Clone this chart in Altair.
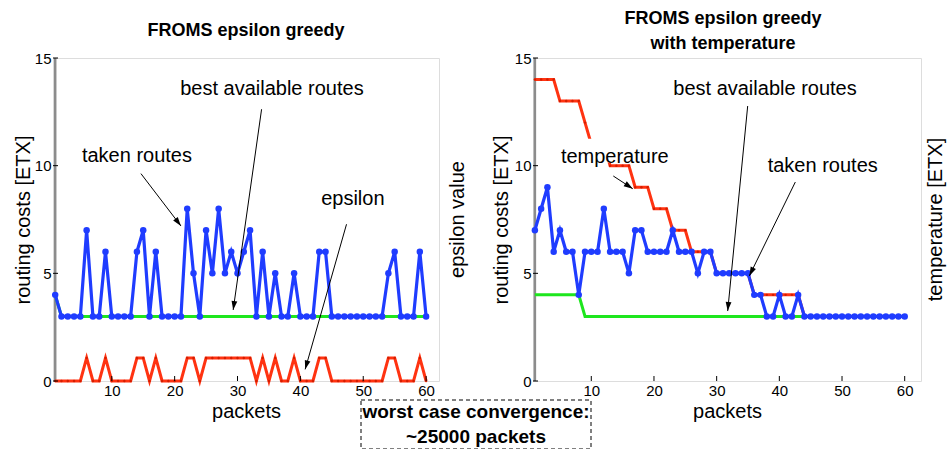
import math
import altair as alt
import pandas as pd

# ---------------- data ----------------
packets = list(range(1, 61))
left_taken = [4, 3, 3, 3, 3, 7, 3, 3, 6, 3,
              3, 3, 3, 6, 7, 3, 6, 3, 3, 3,
              3, 8, 5, 3, 7, 5, 8, 5, 6, 5,
              6, 7, 3, 6, 3, 5, 3, 3, 5, 3,
              3, 3, 6, 6, 3, 3, 3, 3, 3, 3,
              3, 3, 3, 5, 6, 3, 3, 3, 6, 3]
left_best = [4, 3, 3, 3, 3, 3, 3, 3, 3, 3,
             3, 3, 3, 3, 3, 3, 3, 3, 3, 3,
             3, 3, 3, 3, 3, 3, 3, 3, 3, 3,
             3, 3, 3, 3, 3, 3, 3, 3, 3, 3,
             3, 3, 3, 3, 3, 3, 3, 3, 3, 3,
             3, 3, 3, 3, 3, 3, 3, 3, 3, 3]
left_epsilon = [0, 0, 0, 0, 0, 1, 0, 0, 1, 0,
                0, 0, 0, 1, 1, 0, 1, 0, 0, 0,
                0, 1, 1, 0, 1, 1, 1, 1, 1, 1,
                1, 1, 0, 1, 0, 1, 0, 0, 1, 0,
                0, 0, 1, 1, 0, 0, 0, 0, 0, 0,
                0, 0, 0, 1, 1, 0, 0, 0, 1, 0]
right_taken = [7, 8, 9, 6, 7, 6, 6, 4, 6, 6,
               6, 8, 6, 6, 6, 5, 7, 7, 6, 6,
               6, 6, 7, 6, 6, 6, 5, 6, 6, 5,
               5, 5, 5, 5, 5, 4, 4, 3, 3, 4,
               3, 3, 4, 3, 3, 3, 3, 3, 3, 3,
               3, 3, 3, 3, 3, 3, 3, 3, 3, 3]
right_best = [4, 4, 4, 4, 4, 4, 4, 4, 3, 3,
              3, 3, 3, 3, 3, 3, 3, 3, 3, 3,
              3, 3, 3, 3, 3, 3, 3, 3, 3, 3,
              3, 3, 3, 3, 3, 3, 3, 3, 3, 3,
              3, 3, 3, 3, 3, 3, 3, 3, 3, 3,
              3, 3, 3, 3, 3, 3, 3, 3, 3, 3]
right_temperature = [14, 14, 14, 14, 13, 13, 13, 13, 12, 11,
                     11, 11, 10, 10, 10, 10, 9, 9, 9, 8,
                     8, 8, 7, 7, 7, 6, 6, 6, 6, 5,
                     5, 5, 5, 5, 5, 4, 4, 4, 4, 4,
                     4, 4, 4, 3, 3, 3, 3, 3, 3, 3,
                     3, 3, 3, 3, 3, 3, 3, 3, 3, 3]

x_ticks = [10, 20, 30, 40, 50, 60]
y_ticks = [0, 5, 10, 15]

left_title = ["FROMS epsilon greedy"]
right_title = ["FROMS epsilon greedy", "with temperature"]

# annotations in data coordinates (packets, ETX)
left_notes = [("best available routes", 35.47, 13.56),
              ("taken routes", 14.0, 10.45),
              ("epsilon", 48.35, 8.45)]
left_arrows = [(33.83, 12.62, 29.31, 3.30),
               (14.64, 9.63, 21.0, 7.2),
               (47.34, 7.28, 40.76, 0.54)]
right_notes = [("best available routes", 37.71, 13.56),
               ("taken routes", 46.92, 9.99),
               ("temperature", 13.75, 10.4)]
right_arrows = [(34.95, 12.77, 31.76, 3.25),
                (42.55, 9.24, 35.21, 4.88),
                (13.51, 9.52, 16.61, 8.93)]

# ---------------- style ----------------
FONT = "Liberation Sans"
BLUE = "#1f3cff"
GREEN = "#1ee61e"
RED = "#ff3311"
LW, RW, H = 386, 388, 323
LXD = [0.65, 62.05]
RXD = [0.7, 62.6]
YD = [0, 15]
EPSD = [0, 14]
ARROW = "M0,0L-0.32,1L0.32,1Z"


def xscale(dom):
    return alt.Scale(domain=dom, nice=False, zero=False)


ys = alt.Scale(domain=YD, nice=False, zero=False)


def x_axis():
    return alt.Axis(values=x_ticks, orient="bottom", title="packets", grid=False,
                    domain=False, ticks=False, labelFontSize=15, labelPadding=2,
                    labelFont=FONT, labelColor="black", titleFontSize=20,
                    titleFontWeight="normal", titleFont=FONT, titleColor="black",
                    titleY=30, titleBaseline="middle", titleAlign="center")


def y_axis(tx):
    return alt.Axis(values=y_ticks, orient="left", title="routing costs [ETX]", grid=False,
                    domain=False, ticks=False, labelFontSize=15, labelPadding=2,
                    labelFont=FONT, labelColor="black", titleFontSize=20,
                    titleFontWeight="normal", titleFont=FONT, titleColor="black",
                    titleX=tx, titleY=H / 2, titleAngle=270, titleBaseline="middle",
                    titleAlign="center")


def arrow_df(arrows, xd, width):
    sx = width / (xd[1] - xd[0])
    sy = H / (YD[1] - YD[0])
    rows = []
    for x1, y1, x2, y2 in arrows:
        dx = (x2 - x1) * sx
        dy = -(y2 - y1) * sy
        a = math.degrees(math.atan2(dx, -dy)) % 360
        rows.append({"x": x1, "y": y1, "x2": x2, "y2": y2, "angle": a})
    return pd.DataFrame(rows)


def label(text, x, y, size=20, weight="normal", angle=0):
    return alt.Chart(pd.DataFrame({"t": [text]})).mark_text(
        font=FONT, fontSize=size, fontWeight=weight, color="black", angle=angle,
        align="center", baseline="middle").encode(
        x=alt.value(x), y=alt.value(y), text="t:N")


def common_layers(xs, xd, width, notes, arrows):
    layers = []
    # inward tick marks
    layers.append(alt.Chart(pd.DataFrame({"v": x_ticks})).mark_rule(color="black", strokeWidth=1).encode(
        x=alt.X("v:Q", scale=xs, axis=None), y=alt.value(H), y2=alt.value(H - 5)))
    layers.append(alt.Chart(pd.DataFrame({"v": y_ticks})).mark_rule(color="black", strokeWidth=1).encode(
        y=alt.Y("v:Q", scale=ys, axis=None), x=alt.value(0), x2=alt.value(5)))
    adf = arrow_df(arrows, xd, width)
    layers.append(alt.Chart(adf).mark_rule(color="black", strokeWidth=1).encode(
        x=alt.X("x:Q", scale=xs, axis=None), y=alt.Y("y:Q", scale=ys, axis=None),
        x2="x2:Q", y2="y2:Q"))
    layers.append(alt.Chart(adf).mark_point(shape=ARROW, filled=True, color="black",
                                            size=324, opacity=1).encode(
        x=alt.X("x2:Q", scale=xs, axis=None), y=alt.Y("y2:Q", scale=ys, axis=None),
        angle=alt.Angle("angle:Q", scale=None)))
    ndf = pd.DataFrame(notes, columns=["label", "x", "y"])
    layers.append(alt.Chart(ndf).mark_text(font=FONT, fontSize=20, color="black",
                                           align="center", baseline="middle").encode(
        x=alt.X("x:Q", scale=xs, axis=None), y=alt.Y("y:Q", scale=ys, axis=None),
        text="label:N"))
    return layers


# ---------------- left panel ----------------
ldf = pd.DataFrame({"packet": packets, "taken": left_taken, "best": left_best,
                    "epsilon": left_epsilon})
lxs = xscale(LXD)
eps_scale = alt.Scale(domain=EPSD, nice=False, zero=False)

left_layers = [
    alt.Chart(pd.DataFrame({"x": [1], "y": [0], "y2": [15]})).mark_rule(
        color="#8c8c8c", strokeWidth=2.5).encode(
        x=alt.X("x:Q", scale=lxs, axis=None), y=alt.Y("y:Q", scale=ys, axis=None), y2="y2:Q"),
    alt.Chart(ldf).mark_line(color=RED, strokeWidth=3).encode(
        x=alt.X("packet:Q", scale=lxs, axis=None),
        y=alt.Y("epsilon:Q", scale=eps_scale, axis=None)),
    alt.Chart(ldf).mark_circle(color="#d41e00", size=6, opacity=1).encode(
        x=alt.X("packet:Q", scale=lxs, axis=None),
        y=alt.Y("epsilon:Q", scale=eps_scale, axis=None)),
    alt.Chart(ldf).mark_line(color=GREEN, strokeWidth=3).encode(
        x=alt.X("packet:Q", scale=lxs, axis=None),
        y=alt.Y("best:Q", scale=ys, axis=None)),
    alt.Chart(ldf).mark_line(color=BLUE, strokeWidth=3.2).encode(
        x=alt.X("packet:Q", scale=lxs, axis=x_axis()),
        y=alt.Y("taken:Q", scale=ys, axis=y_axis(-30))),
    alt.Chart(ldf).mark_circle(color=BLUE, size=42, opacity=1).encode(
        x=alt.X("packet:Q", scale=lxs, axis=None),
        y=alt.Y("taken:Q", scale=ys, axis=None)),
]
left_layers += common_layers(lxs, LXD, LW, left_notes, left_arrows)
left_layers += [
    label(left_title[0], LW / 2, -27, size=18, weight="bold"),
    label("epsilon value", LW + 19, H / 2, angle=270),
    alt.Chart(pd.DataFrame({"a": [0]})).mark_rect(
        fill="white", stroke="black", strokeDash=[4, 3], strokeWidth=1).encode(
        x=alt.value(308), x2=alt.value(538), y=alt.value(342), y2=alt.value(391)),
    label("worst case convergence:", 423, 354, size=19, weight="bold"),
    label("~25000 packets", 423, 379, size=19, weight="bold"),
    # invisible anchor fixing the top-left corner of the page
    alt.Chart(pd.DataFrame({"a": [0]})).mark_rect(opacity=0).encode(
        x=alt.value(-52), x2=alt.value(-51), y=alt.value(-57), y2=alt.value(-56)),
]
left = alt.layer(*left_layers).resolve_scale(y="independent").resolve_axis(
    x="independent", y="independent").properties(width=LW, height=H)

# ---------------- right panel ----------------
rdf = pd.DataFrame({"packet": packets, "taken": right_taken, "best": right_best,
                    "temperature": right_temperature})
rxs = xscale(RXD)
right_layers = [
    alt.Chart(pd.DataFrame({"x": [1], "y": [0], "y2": [15]})).mark_rule(
        color="#8c8c8c", strokeWidth=2.5).encode(
        x=alt.X("x:Q", scale=rxs, axis=None), y=alt.Y("y:Q", scale=ys, axis=None), y2="y2:Q"),
    alt.Chart(rdf).mark_line(color=RED, strokeWidth=3).encode(
        x=alt.X("packet:Q", scale=rxs, axis=None),
        y=alt.Y("temperature:Q", scale=ys, axis=None)),
    alt.Chart(rdf).mark_circle(color="#d41e00", size=6, opacity=1).encode(
        x=alt.X("packet:Q", scale=rxs, axis=None),
        y=alt.Y("temperature:Q", scale=ys, axis=None)),
    alt.Chart(pd.DataFrame({"x": [4.53], "x2": [22.7], "y": [10.15], "y2": [11.25]})).mark_rect(
        fill="white").encode(
        x=alt.X("x:Q", scale=rxs, axis=None), x2="x2:Q",
        y=alt.Y("y:Q", scale=ys, axis=None), y2="y2:Q"),
    alt.Chart(rdf).mark_line(color=GREEN, strokeWidth=3).encode(
        x=alt.X("packet:Q", scale=rxs, axis=None),
        y=alt.Y("best:Q", scale=ys, axis=None)),
    alt.Chart(rdf).mark_line(color=BLUE, strokeWidth=3.2).encode(
        x=alt.X("packet:Q", scale=rxs, axis=x_axis()),
        y=alt.Y("taken:Q", scale=ys, axis=y_axis(-32))),
    alt.Chart(rdf).mark_circle(color=BLUE, size=42, opacity=1).encode(
        x=alt.X("packet:Q", scale=rxs, axis=None),
        y=alt.Y("taken:Q", scale=ys, axis=None)),
]
right_layers += common_layers(rxs, RXD, RW, right_notes, right_arrows)
right_layers += [
    label(right_title[0], RW / 2 - 4, -39, size=18, weight="bold"),
    label(right_title[1], RW / 2 - 4, -14, size=18, weight="bold"),
    label("temperature [ETX]", RW + 15, H / 2, angle=270),
]
right = alt.layer(*right_layers).resolve_axis(
    x="independent", y="independent").properties(width=RW, height=H)

chart = alt.hconcat(left, right, spacing=94, bounds="flush").properties(
    padding=0, background="white"
).configure_view(stroke="black", strokeWidth=1).configure(font=FONT)

chart.save("out.html", embed_options={"renderer": "svg", "actions": False})
